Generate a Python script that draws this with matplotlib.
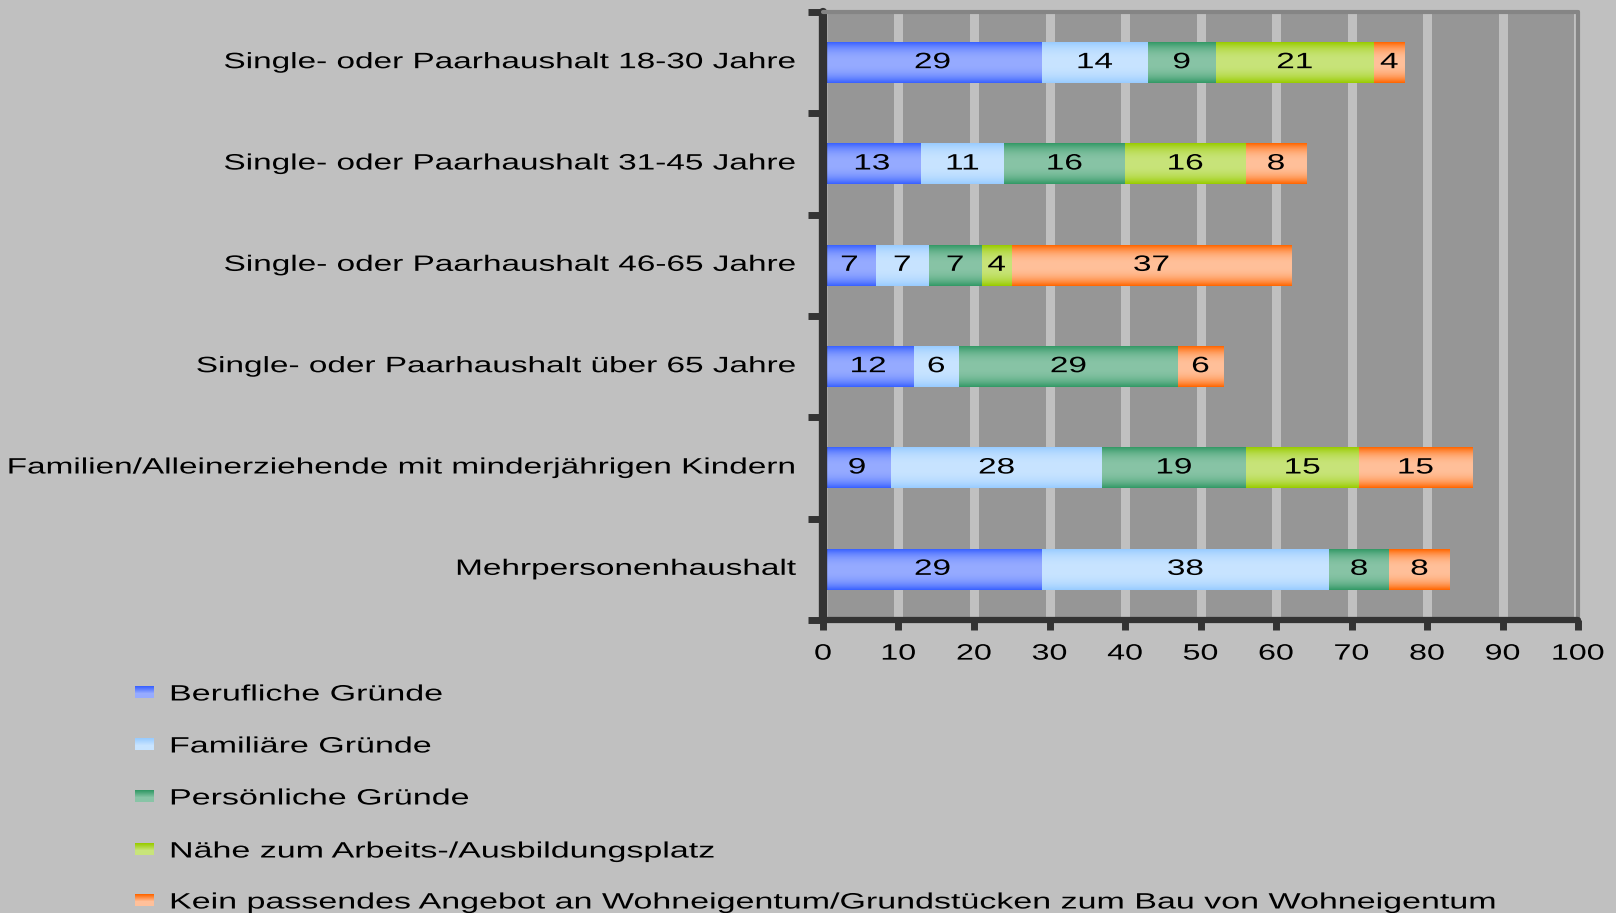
import numpy as np
import matplotlib
matplotlib.use("Agg")
import matplotlib.pyplot as plt
from matplotlib.colors import to_rgb
from matplotlib.patheffects import AbstractPathEffect
from matplotlib.transforms import Affine2D

plt.rcParams['font.family'] = ['Liberation Sans', 'DejaVu Sans']

categories = [
    "Single- oder Paarhaushalt 18-30 Jahre",
    "Single- oder Paarhaushalt 31-45 Jahre",
    "Single- oder Paarhaushalt 46-65 Jahre",
    "Single- oder Paarhaushalt über 65 Jahre",
    "Familien/Alleinerziehende mit minderjährigen Kindern",
    "Mehrpersonenhaushalt",
]
series_names = [
    "Berufliche Gründe",
    "Familiäre Gründe",
    "Persönliche Gründe",
    "Nähe zum Arbeits-/Ausbildungsplatz",
    "Kein passendes Angebot an Wohneigentum/Grundstücken zum Bau von Wohneigentum",
]
beruflich = [29, 13, 7, 12, 9, 29]
familiaer = [14, 11, 7, 6, 28, 38]
persoenlich = [9, 16, 7, 29, 19, 8]
naehe = [21, 16, 4, 0, 15, 0]
kein_angebot = [4, 8, 37, 6, 15, 8]
series = [beruflich, familiaer, persoenlich, naehe, kein_angebot]

# (edge colour, centre colour) for the vertical gradient of each series
colors = [
    ("#3A62FF", "#96ABFF"),
    ("#99CCFF", "#C8E4FF"),
    ("#339966", "#88C4A6"),
    ("#99CC00", "#C8E47A"),
    ("#FF6600", "#FFC09A"),
]

FS = 16
SX = 1.5  # horizontal stretch of the lettering


class Stretch(AbstractPathEffect):
    """Widen glyphs horizontally, keeping the aligned edge fixed."""

    def __init__(self, sx, anchor="center"):
        super().__init__()
        self.sx = sx
        self.anchor = anchor

    def draw_path(self, renderer, gc, tpath, affine, rgbFace=None):
        ext = tpath.get_extents()
        if self.anchor == "left":
            x0 = ext.x0
        elif self.anchor == "right":
            x0 = ext.x1
        else:
            x0 = (ext.x0 + ext.x1) / 2
        t = Affine2D().translate(-x0, 0).scale(self.sx, 1).translate(x0, 0) + affine
        renderer.draw_path(gc, tpath, t, rgbFace)


def gradient(edge, mid, n=64):
    t = np.linspace(0, 1, n)
    f = 1 - np.abs(2 * t - 1) ** 2.5
    e, m = np.array(to_rgb(edge)), np.array(to_rgb(mid))
    rgb = e[None, :] + (m - e)[None, :] * f[:, None]
    return rgb[:, None, :]


fig = plt.figure(figsize=(16.16, 9.13), dpi=100)
fig.patch.set_facecolor("#C0C0C0")
ax = fig.add_axes([823 / 1616, 1 - 620 / 913, (1578 - 823) / 1616, (620 - 12) / 913])
ax.set_facecolor("#969696")

y = np.arange(len(categories))
left = np.zeros(len(categories))
for vals, (edge, mid) in zip(series, colors):
    bars = ax.barh(y, vals, left=left, height=0.4, color=mid, linewidth=0, zorder=2)
    for b, v in zip(bars, vals):
        if v <= 0:
            continue
        x0, y0, w, h = b.get_x(), b.get_y(), b.get_width(), b.get_height()
        ax.imshow(gradient(edge, mid), extent=(x0, x0 + w, y0 + h, y0),
                  aspect="auto", interpolation="bilinear", zorder=3)
        ax.text(x0 + w / 2, y0 + h / 2, str(v), ha="center", va="center",
                fontsize=FS, color="black", zorder=4,
                path_effects=[Stretch(SX, "center")])
    left = left + np.array(vals)

ax.set_xlim(0, 100)
ax.set_ylim(len(categories) - 0.5, -0.5)

# light vertical grid bands
ax.set_xticks(np.arange(0, 101, 10))
ax.xaxis.grid(True, color="#C0C0C0", linewidth=6.5, zorder=1)
ax.set_axisbelow(True)

ax.set_yticks(np.arange(-0.5, len(categories), 1))
ax.set_yticklabels([])
for yi, name in zip(y, categories):
    ax.text(-3.5, yi, name, ha="right", va="center", fontsize=FS, color="black",
            path_effects=[Stretch(SX, "right")])

ax.tick_params(axis="x", length=7, width=5, color="#333333", labelsize=FS,
               pad=10, labelcolor="black")
ax.tick_params(axis="y", length=11, width=5, color="#333333")
for t in ax.xaxis.get_ticklines() + ax.yaxis.get_ticklines():
    t.set_solid_capstyle("round")
for lab in ax.get_xticklabels():
    lab.set_path_effects([Stretch(1.45, "center")])

ax.spines["left"].set_color("#333333")
ax.spines["left"].set_linewidth(6)
ax.spines["bottom"].set_color("#333333")
ax.spines["bottom"].set_linewidth(4.5)
for s in ("top", "right"):
    ax.spines[s].set_color("#858585")
    ax.spines[s].set_linewidth(3)
for s in ax.spines.values():
    s.set_capstyle("round")
    s.set_zorder(5)

# legend stacked below the chart
leg_y = [695, 747, 799, 852, 903]
for name, (edge, mid), py in zip(series_names, colors, leg_y):
    lax = fig.add_axes([135 / 1616, 1 - (py + 3) / 913, 19 / 1616, 12 / 913])
    t = np.linspace(0, 1, 12)
    e, m = np.array(to_rgb(edge)), np.array(to_rgb(mid))
    f = np.clip(t * 1.6, 0, 1)
    lax.imshow((e[None, :] + (m - e)[None, :] * f[:, None])[:, None, :],
               aspect="auto", interpolation="nearest")
    lax.axis("off")
    fig.text(170 / 1616, 1 - py / 913, name, ha="left", va="center",
             fontsize=FS, color="black", path_effects=[Stretch(1.53, "left")])

fig.savefig("out.png", dpi=100, facecolor=fig.get_facecolor())
